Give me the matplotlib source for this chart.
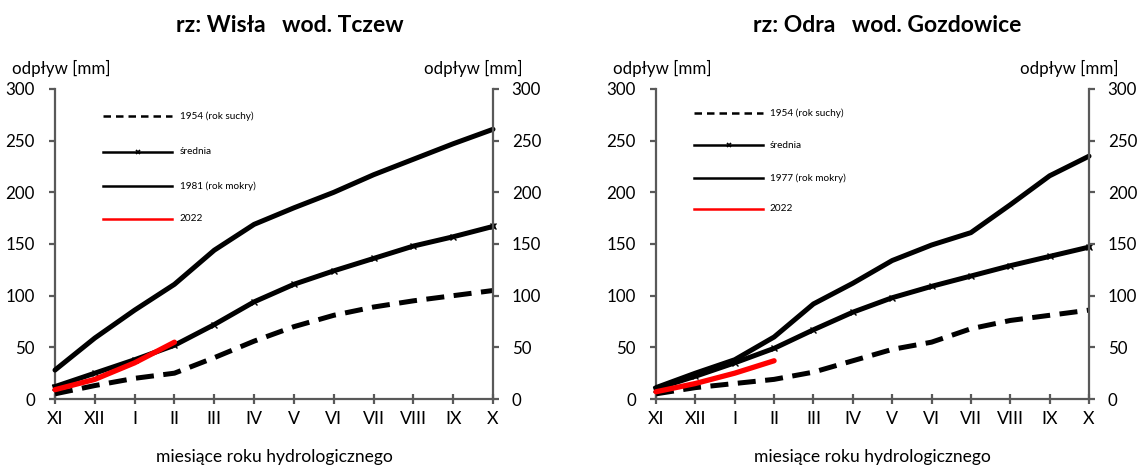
import matplotlib
matplotlib.use("Agg")
import matplotlib.pyplot as plt
from matplotlib.lines import Line2D

plt.rcParams['font.family'] = ['Lato', 'DejaVu Sans']

months = ["XI", "XII", "I", "II", "III", "IV", "V", "VI", "VII", "VIII", "IX", "X"]

# Wisła - Tczew
wisla_dry_1954 = [5, 13, 20, 25, 40, 56, 70, 81, 89, 95, 100, 105]
wisla_mean = [12, 25, 38, 52, 72, 94, 111, 124, 136, 148, 157, 167]
wisla_wet_1981 = [28, 59, 86, 111, 144, 169, 185, 200, 217, 232, 247, 261]
wisla_2022 = [9, 19, 35, 55]

# Odra - Gozdowice
odra_dry_1954 = [5, 11, 15, 19, 26, 37, 48, 55, 68, 76, 81, 86]
odra_mean = [10, 22, 35, 49, 67, 84, 98, 109, 119, 129, 138, 147]
odra_wet_1977 = [11, 25, 38, 60, 92, 112, 134, 149, 161, 188, 216, 235]
odra_2022 = [7, 15, 25, 37]

W, H = 1139, 466
fig = plt.figure(figsize=(W / 100, H / 100), dpi=100)

SPINE = '#595959'
FS = 12.2


def panel(px_left, px_right, title, title_cx, dry, mean, wet, cur, wet_label, leg_x, leg_y):
    y_top, y_bot = 89, 399
    ax = fig.add_axes([px_left / W, (H - y_bot) / H, (px_right - px_left) / W, (y_bot - y_top) / H])
    x = list(range(len(months)))
    ax.plot(x, dry, color='black', lw=3.6, dashes=(3.6, 1.9), clip_on=False, zorder=3)
    ax.plot(x, mean, color='black', lw=3.6, marker='x', ms=5, mew=1.0, clip_on=False, zorder=4)
    ax.plot(x, wet, color='black', lw=3.6, clip_on=False, zorder=3, solid_capstyle='round')
    ax.plot(x[:len(cur)], cur, color='#ff0000', lw=3.8, clip_on=False, zorder=5,
            solid_capstyle='round')
    ax.set_xlim(0, len(months) - 1)
    ax.set_ylim(0, 300)
    ax.set_yticks(range(0, 301, 50))
    ax.set_xticks(x)
    ax.set_xticklabels(months)
    for s in ['top', 'right']:
        ax.spines[s].set_visible(False)
    for s in ['left', 'bottom']:
        ax.spines[s].set_color(SPINE)
        ax.spines[s].set_linewidth(1.6)
    ax.tick_params(axis='y', direction='out', length=4.5, width=1.6, color=SPINE,
                   labelsize=FS, pad=10)
    ax.tick_params(axis='x', direction='inout', length=7, width=1.6, color=SPINE,
                   labelsize=12.8, pad=5)
    ax2 = ax.twinx()
    ax2.set_ylim(0, 300)
    ax2.set_yticks(range(0, 301, 50))
    for s in ['top', 'left', 'bottom']:
        ax2.spines[s].set_visible(False)
    ax2.spines['right'].set_color(SPINE)
    ax2.spines['right'].set_linewidth(1.6)
    ax2.tick_params(axis='y', direction='out', length=4.5, width=1.6, color=SPINE,
                    labelsize=FS, pad=9)
    ax.set_xlabel("miesiące roku hydrologicznego", fontsize=12.6, labelpad=16)

    # legend (manual, thin handles)
    lx0, lx1, ltx = leg_x
    handles = [
        dict(color='black', lw=1.8, dashes=(3.0, 2.0)),
        dict(color='black', lw=1.8),
        dict(color='black', lw=1.8),
        dict(color='#ff0000', lw=1.8),
    ]
    labels = ["1954 (rok suchy)", "średnia", wet_label, "2022"]
    for i, (hk, lab) in enumerate(zip(handles, labels)):
        yy = leg_y[i]
        ax.add_line(Line2D([lx0, lx1], [yy, yy], transform=ax.transAxes, clip_on=False, **hk))
        if i == 1:
            ax.add_line(Line2D([(lx0 + lx1) / 2], [yy], transform=ax.transAxes, marker='x',
                               ms=3.5, mew=1.2, color='black', clip_on=False))
        ax.text(ltx, yy, lab, transform=ax.transAxes, fontsize=7.2, va='center', ha='left')

    fig.text(title_cx / W, 1 - 26 / H, title, fontsize=16.5, fontweight='bold',
             ha='center', va='center')
    fig.text((px_left - 43) / W, 1 - 68 / H, "odpływ [mm]", fontsize=FS, ha='left', va='center')
    fig.text((px_right + 29) / W, 1 - 68 / H, "odpływ [mm]", fontsize=FS, ha='right', va='center')
    return ax


panel(55, 493, "rz: Wisła   wod. Tczew", 290,
      wisla_dry_1954, wisla_mean, wisla_wet_1981, wisla_2022, "1981 (rok mokry)",
      (0.11, 0.267, 0.285), (0.913, 0.797, 0.687, 0.581))
panel(656, 1089, "rz: Odra   wod. Gozdowice", 887,
      odra_dry_1954, odra_mean, odra_wet_1977, odra_2022, "1977 (rok mokry)",
      (0.088, 0.247, 0.263), (0.923, 0.819, 0.713, 0.613))

fig.savefig("out.png", dpi=100)
